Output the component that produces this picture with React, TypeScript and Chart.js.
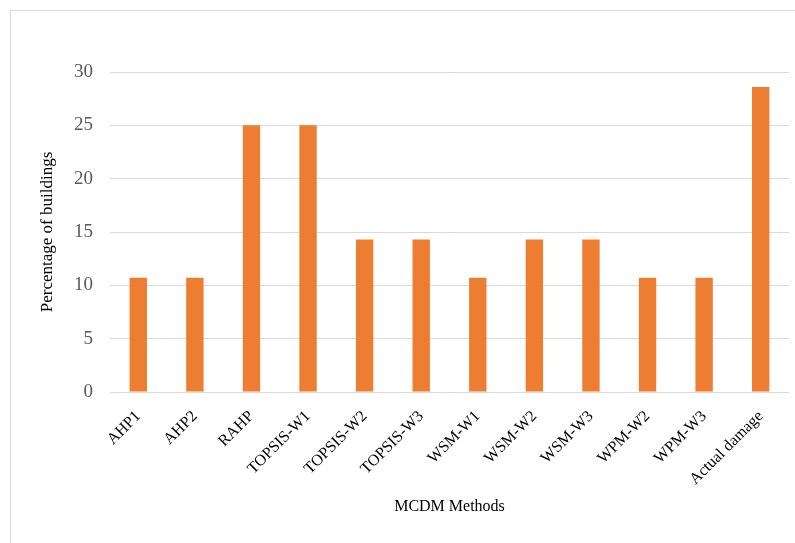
import React, { useEffect, useRef } from "react";
import { Chart, registerables } from "chart.js";

Chart.register(...registerables);

const categories = [
  "AHP1",
  "AHP2",
  "RAHP",
  "TOPSIS-W1",
  "TOPSIS-W2",
  "TOPSIS-W3",
  "WSM-W1",
  "WSM-W2",
  "WSM-W3",
  "WPM-W2",
  "WPM-W3",
  "Actual damage",
];

const percentages = [10.7, 10.7, 25, 25, 14.3, 14.3, 10.7, 14.3, 14.3, 10.7, 10.7, 28.6];

const yTicks = [0, 5, 10, 15, 20, 25, 30];

const FONT = "'Liberation Serif', 'Times New Roman', serif";

export default function App() {
  const canvasRef = useRef<HTMLCanvasElement | null>(null);

  useEffect(() => {
    const canvas = canvasRef.current;
    if (!canvas) return;
    const chart = new Chart(canvas, {
      type: "bar",
      data: {
        labels: categories,
        datasets: [
          {
            label: "Percentage of buildings",
            data: percentages,
            backgroundColor: "#ED7D31",
            borderWidth: 0,
            categoryPercentage: 1,
            barPercentage: 0.307,
          },
        ],
      },
      options: {
        animation: false,
        responsive: false,
        maintainAspectRatio: false,
        layout: { padding: { left: 0, right: 6, top: 72, bottom: 0 } },
        plugins: {
          legend: { display: false },
          tooltip: { enabled: false },
        },
        scales: {
          x: {
            grid: { display: false, drawTicks: false },
            border: { display: false },
            ticks: {
              minRotation: 45,
              maxRotation: 45,
              autoSkip: false,
              padding: 15,
              color: "#000000",
              font: { family: FONT, size: 16 },
            },
            title: {
              display: true,
              text: "MCDM Methods",
              color: "#000000",
              font: { family: FONT, size: 16 },
              padding: { top: 4, bottom: 27 },
            },
            afterFit: (scale: any) => {
              scale.height = 151;
            },
          },
          y: {
            min: 0,
            max: 30,
            afterBuildTicks: (scale: any) => {
              scale.ticks = yTicks.map((v) => ({ value: v }));
            },
            grid: { color: "#d9d9d9", lineWidth: 1, drawTicks: false },
            border: { display: false },
            ticks: {
              padding: 17,
              color: "#595959",
              font: { family: FONT, size: 19 },
            },
            title: {
              display: true,
              text: "Percentage of buildings",
              color: "#000000",
              font: { family: FONT, size: 17 },
              padding: { top: 37, bottom: 37 },
            },
            afterFit: (scale: any) => {
              scale.width = 110;
            },
          },
        },
      },
    });
    return () => chart.destroy();
  }, []);

  return (
    <div
      style={{
        position: "fixed",
        left: 0,
        top: 0,
        width: 795,
        height: 543,
        background: "#ffffff",
        overflow: "hidden",
      }}
    >
      <div
        style={{
          position: "absolute",
          left: 10,
          top: 10,
          width: 820,
          height: 570,
          border: "1px solid #d9d9d9",
          boxSizing: "border-box",
        }}
      />
      <canvas
        ref={canvasRef}
        width={795}
        height={543}
        style={{ position: "absolute", left: 0, top: 0, width: 795, height: 543 }}
      />
    </div>
  );
}
